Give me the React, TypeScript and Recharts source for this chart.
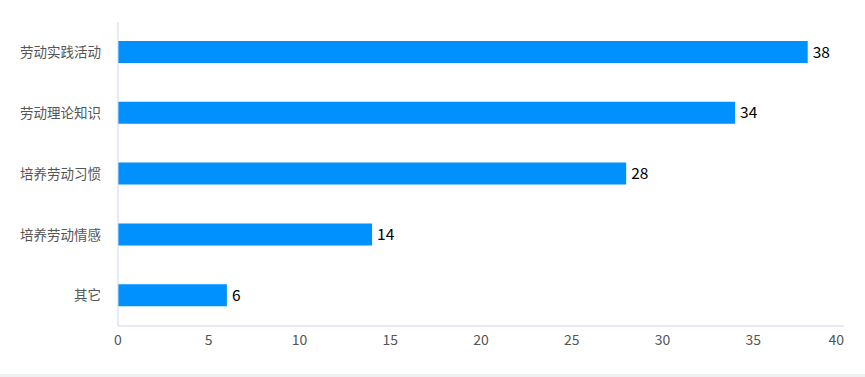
import React from 'react';
import { BarChart, Bar, XAxis, YAxis, LabelList } from 'recharts';

const categories = ['劳动实践活动', '劳动理论知识', '培养劳动习惯', '培养劳动情感', '其它'];
const values = [38, 34, 28, 14, 6];
const xTicks = [0, 5, 10, 15, 20, 25, 30, 35, 40];

const data = categories.map((name, i) => ({ name, value: values[i] }));

const FONT = '"Noto Sans CJK SC", "Microsoft YaHei", sans-serif';

const XTick = (props: any) => {
  const { x, y, payload } = props;
  const last = payload.value === xTicks[xTicks.length - 1];
  return (
    <text x={x} y={y} dy="0.71em" textAnchor={last ? 'end' : 'middle'} fill="#555" fontSize={14} fontFamily={FONT}>
      {payload.value}
    </text>
  );
};

export default function App() {
  return (
    <div style={{ position: 'absolute', left: 0, top: 0, width: 865, height: 377, background: '#fff' }}>
      <BarChart
        width={865}
        height={377}
        data={data}
        layout="vertical"
        margin={{ top: 22, right: 21, bottom: 0, left: 0 }}
        barCategoryGap={0}
      >
        <XAxis
          type="number"
          domain={[0, 40]}
          ticks={xTicks}
          tickLine={false}
          tickSize={0}
          tickMargin={9}
          height={51}
          axisLine={{ stroke: '#ccd6eb' }}
          tick={<XTick />}
          interval={0}
        />
        <YAxis
          type="category"
          dataKey="name"
          width={118}
          tickLine={false}
          tickSize={0}
          tickMargin={17}
          axisLine={{ stroke: '#ccd6eb' }}
          tick={{ fill: '#555', fontSize: 13.5, fontFamily: FONT }}
          interval={0}
        />
        <Bar dataKey="value" fill="#0091ff" barSize={22} isAnimationActive={false}>
          <LabelList dataKey="value" position="right" offset={5} fill="#000" fontSize={15.5} fontFamily={FONT} />
        </Bar>
      </BarChart>
      <div style={{ position: 'absolute', left: 0, top: 374, width: 865, height: 3, background: '#eef0f3' }} />
    </div>
  );
}
